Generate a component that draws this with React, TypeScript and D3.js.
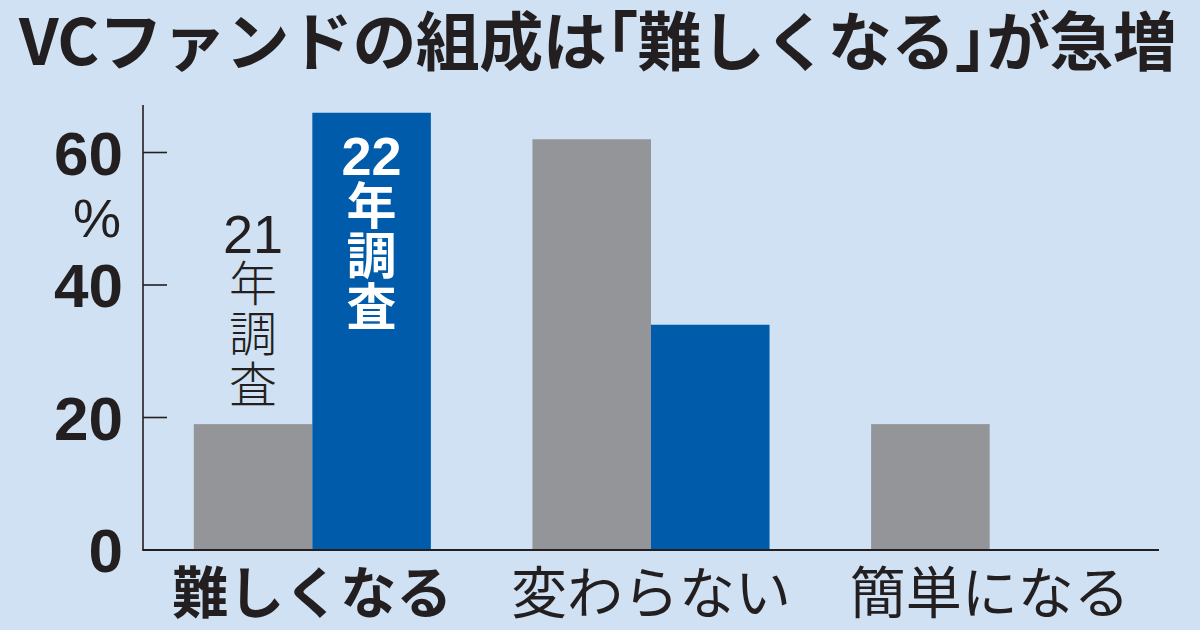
import React from "react";
import * as d3 from "d3";

const title = "VCファンドの組成は「難しくなる」が急増";
const categories = ["難しくなる", "変わらない", "簡単になる"];
const boldCategory = "難しくなる";
const seriesKeys = ["21年調査", "22年調査"];
const values2021 = [19, 62, 19];
const values2022 = [66, 34, 0];
const yTicks = [0, 20, 40, 60];
const unitLabel = "%";
const label2021 = ["21", "年", "調", "査"];
const label2022 = ["22", "年", "調", "査"];

const W = 1200;
const H = 630;
const BG = "#cfe1f2";
const GRAY = "#949598";
const BLUE = "#005cab";
const INK = "#231f20";
const JP = "'Noto Sans CJK JP', 'Noto Sans', sans-serif";
const NUM = "'Liberation Sans', Arial, sans-serif";

export default function App() {
  const x0 = 143;
  const x1 = 1159;
  const yBase = 550;
  const yTop = 105;

  const x = d3
    .scaleBand<string>()
    .domain(categories)
    .range([x0, x1])
    .paddingInner(0.3)
    .paddingOuter(0.15);
  const xs = d3
    .scaleBand<string>()
    .domain(seriesKeys)
    .range([0, x.bandwidth()])
    .padding(0);
  const y = d3.scaleLinear().domain([0, 20]).range([yBase, yBase - 132.5]);

  const series = [
    { key: seriesKeys[0], values: values2021, color: GRAY },
    { key: seriesKeys[1], values: values2022, color: BLUE },
  ];

  const c0 = categories[0];
  const gx = (x(c0) ?? 0) + (xs(seriesKeys[0]) ?? 0) + xs.bandwidth() / 2;
  const bx = (x(c0) ?? 0) + (xs(seriesKeys[1]) ?? 0) + xs.bandwidth() / 2;
  const grayTop = y(values2021[0]);
  const blueTop = y(values2022[0]);
  const pitch = 50.5;

  return (
    <svg
      width={W}
      height={H}
      style={{ position: "absolute", left: 0, top: 0, display: "block" }}
    >
      <rect x={0} y={0} width={W} height={H} fill={BG} />
      <text
        x={19}
        y={65}
        fontFamily={JP}
        fontWeight={700}
        fontSize={64}
        textLength={1158}
        lengthAdjust="spacing"
        fill={INK}
        style={{ fontFeatureSettings: "'halt'" }}
      >
        {title}
      </text>

      {/* bars */}
      {series.map((s) =>
        s.values.map((v, i) =>
          v > 0 ? (
            <rect
              key={s.key + i}
              x={(x(categories[i]) ?? 0) + (xs(s.key) ?? 0)}
              y={y(v)}
              width={xs.bandwidth()}
              height={yBase - y(v)}
              fill={s.color}
            />
          ) : null
        )
      )}

      {/* y axis */}
      <line x1={x0} x2={x0} y1={yTop} y2={yBase} stroke={INK} strokeWidth={1.6} />
      {yTicks.map((t) => (
        <g key={t}>
          {t > 0 && (
            <line x1={x0} x2={x0 + 24} y1={y(t)} y2={y(t)} stroke={INK} strokeWidth={1.6} />
          )}
          <text
            x={123}
            y={y(t)}
            dy="0.36em"
            textAnchor="end"
            fontFamily={NUM}
            fontWeight={700}
            fontSize={62}
            fill={INK}
          >
            {t}
          </text>
        </g>
      ))}
      <text
        x={97}
        y={218}
        dy="0.36em"
        textAnchor="middle"
        fontFamily={NUM}
        fontSize={54}
        fill={INK}
      >
        {unitLabel}
      </text>

      {/* x axis */}
      <line x1={x0 - 0.8} x2={x1} y1={yBase} y2={yBase} stroke={INK} strokeWidth={2} />
      {categories.map((c) => (
        <text
          key={c}
          x={(x(c) ?? 0) + x.bandwidth() / 2}
          y={593}
          dy="0.35em"
          textAnchor="middle"
          fontFamily={JP}
          fontWeight={c === boldCategory ? 700 : 400}
          fontSize={56}
          fill={INK}
        >
          {c}
        </text>
      ))}

      {/* series labels (vertical) */}
      <text textAnchor="middle" fontWeight={300} fill={INK}>
        {label2021.map((ch, i) => (
          <tspan
            key={"a" + i}
            x={gx}
            y={grayTop - 39 - (label2021.length - 1 - i) * pitch}
            dy="0.35em"
            fontFamily={i === 0 ? NUM : JP}
            fontSize={i === 0 ? 54 : 48}
          >
            {ch}
          </tspan>
        ))}
      </text>
      <text textAnchor="middle" fontWeight={700} fill="#ffffff">
        {label2022.map((ch, i) => (
          <tspan
            key={"b" + i}
            x={bx}
            y={blueTop + 43 + i * pitch}
            dy="0.35em"
            fontFamily={i === 0 ? NUM : JP}
            fontSize={i === 0 ? 54 : 50}
          >
            {ch}
          </tspan>
        ))}
      </text>
    </svg>
  );
}
